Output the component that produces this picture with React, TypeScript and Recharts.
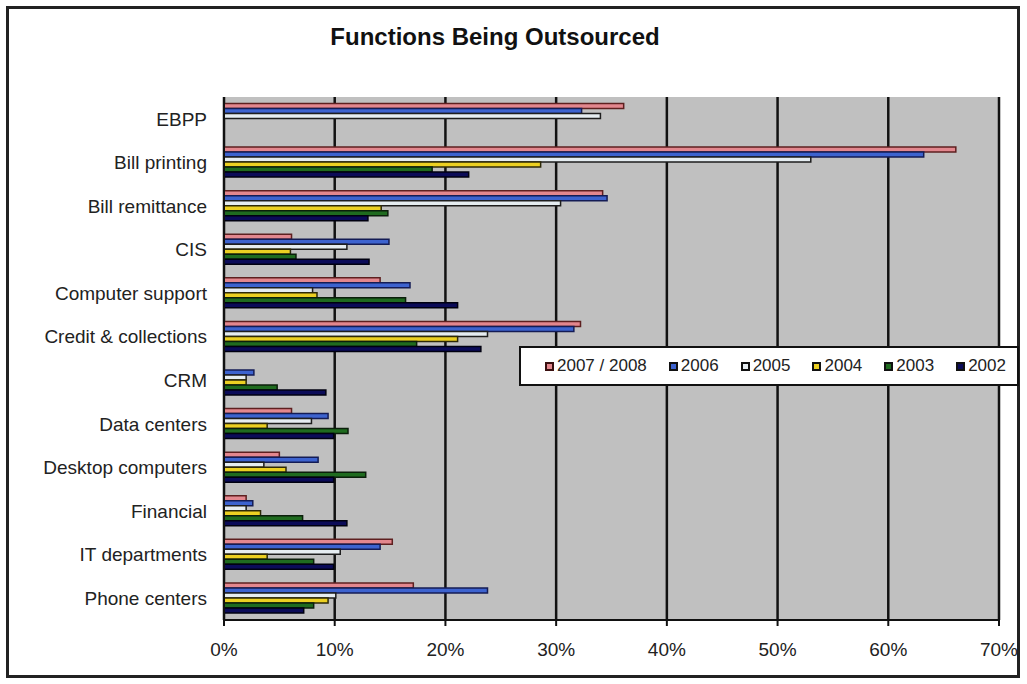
import React from "react";
import { Bar, BarChart, CartesianGrid, Legend, XAxis, YAxis } from "recharts";

const categories = [
  "EBPP",
  "Bill printing",
  "Bill remittance",
  "CIS",
  "Computer support",
  "Credit & collections",
  "CRM",
  "Data centers",
  "Desktop computers",
  "Financial",
  "IT departments",
  "Phone centers"
];

// percent of respondents
const y2007_08 = [36.1, 66.1, 34.2, 6.1, 14.1, 32.2, null, 6.1, 5.0, 2.0, 15.2, 17.1];
const y2006 = [32.3, 63.2, 34.6, 14.9, 16.8, 31.6, 2.7, 9.4, 8.5, 2.6, 14.1, 23.8];
const y2005 = [34.0, 53.0, 30.4, 11.1, 8.0, 23.8, 2.0, 7.9, 3.6, 2.0, 10.5, 10.1];
const y2004 = [null, 28.6, 14.2, 6.0, 8.4, 21.1, 2.0, 3.9, 5.6, 3.3, 3.9, 9.4];
const y2003 = [null, 18.8, 14.8, 6.5, 16.4, 17.4, 4.8, 11.2, 12.8, 7.1, 8.1, 8.1];
const y2002 = [null, 22.1, 13.0, 13.1, 21.1, 23.2, 9.2, 9.9, 9.9, 11.1, 9.9, 7.2];

const xTicks = [0, 10, 20, 30, 40, 50, 60, 70];

const series = [
  { key: "y2007_08", name: "2007 / 2008", values: y2007_08, fill: "#e3878e", stroke: "#5e2020" },
  { key: "y2006", name: "2006", values: y2006, fill: "#3d63cf", stroke: "#141c55" },
  { key: "y2005", name: "2005", values: y2005, fill: "#e6edf1", stroke: "#1e1e1e" },
  { key: "y2004", name: "2004", values: y2004, fill: "#ecd022", stroke: "#2e2a08" },
  { key: "y2003", name: "2003", values: y2003, fill: "#1f6b1f", stroke: "#0b1f0b" },
  { key: "y2002", name: "2002", values: y2002, fill: "#0b0b58", stroke: "#000010" }
];

const data = categories.map((name, i) => {
  const row: Record<string, string | number | null> = { name };
  series.forEach((s) => {
    row[s.key] = s.values[i];
  });
  return row;
});

const font = "'Liberation Sans', Arial, sans-serif";

function LegendBox(): React.ReactElement {
  return (
    <div
      style={{
        display: "flex",
        alignItems: "center",
        height: "100%",
        paddingLeft: 24,
        fontFamily: font,
        fontSize: 17,
        color: "#222",
        whiteSpace: "nowrap"
      }}
    >
      {series.map((s) => (
        <div
          key={s.key}
          style={{ display: "flex", alignItems: "center", marginRight: 22, flexShrink: 0 }}
        >
          <span
            style={{
              display: "inline-block",
              width: 5,
              height: 5,
              background: s.fill,
              border: `2px solid ${s.key === "y2007_08" ? "#3a1010" : "#111"}`,
              marginRight: 3
            }}
          />
          <span>{s.name}</span>
        </div>
      ))}
    </div>
  );
}

export default function App(): React.ReactElement {
  return (
    <div style={{ position: "absolute", left: 0, top: 0, width: 1027, height: 684, background: "#fff" }}>
      <div
        style={{
          position: "absolute",
          left: 6,
          top: 6,
          width: 1014,
          height: 672,
          border: "3px solid #222",
          boxSizing: "border-box"
        }}
      />
      <div
        style={{
          position: "absolute",
          left: 0,
          top: 25,
          width: 990,
          textAlign: "center",
          fontFamily: font,
          fontWeight: "bold",
          fontSize: 24,
          lineHeight: 1,
          color: "#111"
        }}
      >
        Functions Being Outsourced
      </div>
      <div style={{ position: "absolute", left: 0, top: 0 }}>
        <BarChart
          width={1027}
          height={684}
          data={data}
          layout="vertical"
          margin={{ top: 97, right: 28, bottom: 4, left: 0 }}
          barCategoryGap="15%"
          barGap={0}
        >
          <CartesianGrid horizontal={false} fill="#c0c0c0" stroke="#111" strokeWidth={2.5} />
          <XAxis
            type="number"
            domain={[0, 70]}
            ticks={xTicks}
            tickFormatter={(v: number) => `${v}%`}
            height={60}
            tickSize={6}
            tickMargin={17}
            axisLine={{ stroke: "#111", strokeWidth: 2 }}
            tickLine={{ stroke: "#111", strokeWidth: 2 }}
            tick={{ fill: "#222", fontSize: 19, fontFamily: font }}
          />
          <YAxis
            type="category"
            dataKey="name"
            width={224}
            tickSize={0}
            tickMargin={17}
            axisLine={{ stroke: "#111", strokeWidth: 2 }}
            tickLine={false}
            interval={0}
            tick={{ fill: "#222", fontSize: 19, fontFamily: font }}
          />
          <Legend
            layout="horizontal"
            verticalAlign="middle"
            align="center"
            content={() => <LegendBox />}
            wrapperStyle={{
              position: "absolute",
              left: 519,
              top: 346,
              width: 500,
              height: 40,
              border: "2px solid #111",
              background: "#fff",
              boxSizing: "border-box"
            }}
          />
          {series.map((s) => (
            <Bar
              key={s.key}
              dataKey={s.key}
              name={s.name}
              fill={s.fill}
              stroke={s.stroke}
              strokeWidth={1.5}
              isAnimationActive={false}
            />
          ))}
        </BarChart>
      </div>
    </div>
  );
}
